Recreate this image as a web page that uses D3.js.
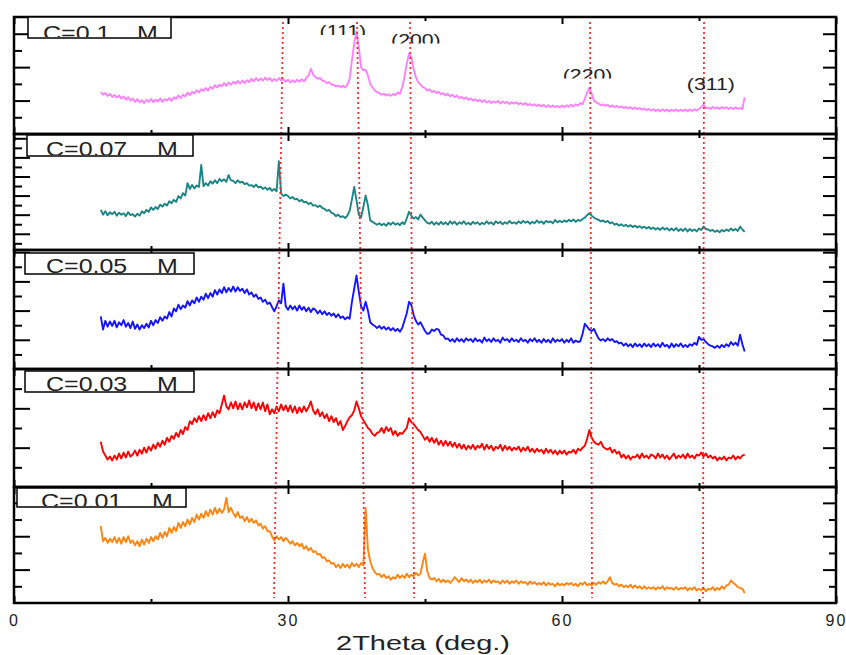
<!DOCTYPE html>
<html lang="en">
<head>
<meta charset="utf-8">
<title>XRD patterns</title>
<style>
  body { margin: 0; background: #fff; }
  svg { font-family: "Liberation Sans", Arial, sans-serif; }
</style>
</head>
<body>
<svg width="846" height="655"></svg>
<script src="https://d3js.org/d3.v7.min.js"></script>
<script>
// 2theta sampling of the patterns (deg)
var thetaStart = 9.5, thetaStep = 0.25;

var concLabels = ["C=0.1 M", "C=0.07 M", "C=0.05 M", "C=0.03 M", "C=0.01 M"];
var colors = ["#ff80ff", "#1a8585", "#1414ff", "#ff0000", "#ff8410"];

// intensities (a.u., one unit = one minor tick of the panel), 9.5..80 deg
var c010 = [
  2.5, 2.35,
  2.45, 2.28, 2.4, 2.22, 2.33, 2.18, 2.3, 2.12, 2.25, 2.05, 2.2, 2.0, 2.12, 1.92, 2.08, 1.9, 2.02, 1.85, 2.05, 1.92,
  2.1, 1.9, 2.05, 1.95, 2.12, 1.92, 2.08, 2.0, 2.15, 1.98, 2.2, 2.1, 2.3, 2.15, 2.35, 2.25, 2.48, 2.32, 2.52, 2.42,
  2.62, 2.48, 2.68, 2.58, 2.75, 2.6, 2.82, 2.7, 2.92, 2.78, 2.95, 2.85, 3.05, 2.88, 3.08, 2.95, 3.12, 3.0, 3.18, 3.02,
  3.2, 3.05, 3.22, 3.1, 3.3, 3.15, 3.35, 3.18, 3.32, 3.2, 3.38, 3.22, 3.35, 3.15, 3.3, 3.18, 3.35, 3.2, 3.28, 3.12,
  3.25, 3.08, 3.2, 3.1, 3.25, 3.12, 3.28, 3.15, 3.35, 3.5, 3.9, 3.55, 3.4, 3.3, 3.35, 3.2, 3.15, 3.05, 3.1, 2.95,
  2.95, 2.85, 2.9, 2.8, 2.88, 2.78, 2.95, 3.3, 4.4, 5.4, 6.15, 5.2, 4.0, 3.8, 3.85, 3.5, 3.0, 2.8, 2.6, 2.5,
  2.45, 2.35, 2.4, 2.3, 2.38, 2.28, 2.4, 2.32, 2.48, 2.4, 2.8, 3.4, 4.2, 4.8, 4.6, 3.9, 3.4, 3.1, 2.95, 2.8,
  2.75, 2.6, 2.68, 2.5, 2.58, 2.45, 2.52, 2.38, 2.45, 2.3, 2.4, 2.25, 2.35, 2.2, 2.3, 2.15, 2.22, 2.1, 2.18, 2.05,
  2.12, 2.0, 2.08, 1.95, 2.05, 1.92, 2.02, 1.88, 1.98, 1.85, 1.95, 1.88, 1.98, 1.82, 1.95, 1.85, 1.92, 1.8, 1.9, 1.82,
  1.9, 1.78, 1.86, 1.75, 1.85, 1.72, 1.8, 1.7, 1.78, 1.68, 1.76, 1.65, 1.74, 1.62, 1.72, 1.6, 1.7, 1.6, 1.68, 1.58,
  1.7, 1.6, 1.72, 1.62, 1.75, 1.65, 1.78, 1.7, 1.85, 1.78, 2.1, 2.5, 2.75, 2.4, 2.0, 1.9, 1.82, 1.72, 1.78, 1.68,
  1.75, 1.62, 1.7, 1.6, 1.68, 1.58, 1.65, 1.55, 1.62, 1.52, 1.6, 1.5, 1.58, 1.48, 1.55, 1.45, 1.52, 1.42, 1.5, 1.4,
  1.48, 1.38, 1.47, 1.36, 1.48, 1.38, 1.46, 1.35, 1.45, 1.37, 1.47, 1.36, 1.45, 1.38, 1.46, 1.36, 1.47, 1.38, 1.48, 1.4,
  1.5, 1.62, 1.75, 1.55, 1.58, 1.5, 1.62, 1.52, 1.6, 1.5, 1.62, 1.53, 1.6, 1.5, 1.58, 1.48, 1.6, 1.5, 1.55, 1.5,
  2.2
];
var c007 = [
  4.5, 4.0,
  4.35, 3.95, 4.25, 4.05, 4.3, 3.9, 4.2, 4.0, 4.15, 3.85, 4.25, 3.95, 4.05, 3.8, 4.1, 3.9, 4.35, 4.15, 4.5, 4.3,
  4.75, 4.5, 4.8, 4.6, 5.05, 4.85, 5.15, 4.95, 5.4, 5.2, 5.55, 5.35, 5.95, 5.7, 6.25, 6.0, 7.3, 6.7, 7.1, 6.75,
  7.05, 6.9, 9.2, 7.0, 7.3, 7.05, 7.5, 7.25, 7.6, 7.3, 7.75, 7.5, 7.7, 7.45, 8.15, 7.6, 7.55, 7.3, 7.6, 7.35,
  7.45, 7.2, 7.3, 7.05, 7.1, 6.9, 7.15, 6.85, 6.95, 6.7, 6.85, 6.6, 6.8, 6.5, 6.7, 6.45, 9.6, 6.2, 5.95, 6.1,
  5.95, 5.7, 5.85, 5.6, 5.65, 5.4, 5.55, 5.3, 5.35, 5.1, 5.25, 4.95, 5.0, 4.8, 4.95, 4.7, 4.6, 4.4, 4.5, 4.2,
  4.1, 3.85, 4.0, 3.75, 3.85, 3.65, 3.9, 4.4, 5.6, 6.9, 5.5, 4.0, 3.7, 4.8, 6.0, 5.0, 3.4, 3.25, 3.1, 2.95,
  3.1, 2.9, 3.05, 2.85, 3.15, 2.95, 3.2, 2.95, 3.1, 2.9, 3.2, 3.0, 3.6, 4.3, 3.9, 3.6, 3.75, 3.5, 4.0, 3.7,
  3.4, 3.15, 3.05, 3.25, 2.95, 3.2, 2.95, 3.25, 3.0, 3.2, 2.95, 3.3, 3.05, 3.25, 2.95, 3.2, 3.05, 3.3, 3.0, 3.15,
  2.95, 3.25, 3.05, 3.2, 2.95, 3.15, 3.0, 3.3, 3.05, 3.2, 2.95, 3.3, 3.1, 3.25, 3.0, 3.2, 3.05, 3.35, 3.1, 3.2,
  3.05, 3.3, 3.1, 3.35, 3.15, 3.3, 3.05, 3.25, 3.1, 3.4, 3.15, 3.3, 3.05, 3.35, 3.2, 3.3, 3.1, 3.45, 3.2, 3.35,
  3.2, 3.4, 3.25, 3.45, 3.3, 3.5, 3.25, 3.45, 3.35, 3.55, 3.7, 3.95, 4.15, 3.9, 3.7, 3.55, 3.45, 3.3, 3.4, 3.2,
  3.35, 3.1, 3.2, 2.95, 3.05, 2.85, 3.0, 2.8, 2.95, 2.75, 2.9, 2.7, 2.85, 2.65, 2.8, 2.6, 2.75, 2.55, 2.7, 2.5,
  2.65, 2.45, 2.6, 2.4, 2.65, 2.45, 2.6, 2.35, 2.55, 2.35, 2.6, 2.3, 2.5, 2.3, 2.55, 2.25, 2.5, 2.3, 2.45, 2.25,
  2.55, 2.4, 2.75, 2.5, 2.45, 2.3, 2.4, 2.2, 2.35, 2.15, 2.4, 2.25, 2.45, 2.3, 2.55, 2.35, 2.5, 2.3, 2.75, 2.45,
  2.2
];
var c005 = [
  3.6, 2.7,
  3.3, 2.9, 3.25, 2.95, 3.3, 2.85, 3.2, 3.0, 3.35, 2.9, 3.15, 2.8, 3.25, 2.75, 3.05, 2.7, 3.0, 2.8, 3.1, 2.85,
  3.3, 3.0, 3.35, 3.15, 3.55, 3.3, 3.6, 3.45, 3.9, 3.6, 4.15, 3.95, 4.4, 4.1, 4.35, 4.2, 4.65, 4.35, 4.7, 4.5,
  4.9, 4.6, 4.95, 4.75, 5.15, 4.85, 5.2, 4.95, 5.4, 5.1, 5.45, 5.2, 5.6, 5.25, 5.55, 5.3, 5.65, 5.3, 5.6, 5.35,
  5.5, 5.2, 5.45, 5.1, 5.25, 4.95, 5.1, 4.8, 4.9, 4.6, 4.75, 4.45, 4.55, 4.25, 3.95, 4.3, 4.7, 4.5, 5.85, 4.3,
  4.05, 4.35, 4.1, 4.3, 4.0, 4.35, 4.05, 4.25, 3.95, 4.2, 3.9, 4.15, 4.05, 3.8, 4.0, 3.75, 3.95, 3.7, 3.85, 3.65,
  3.8, 3.55, 3.75, 3.5, 3.6, 3.4, 3.55, 3.45, 4.6, 5.5, 6.4, 5.3, 4.3, 4.0, 4.6, 4.0, 3.2, 3.05, 2.95, 2.8,
  2.95, 2.75, 2.9, 2.7, 2.85, 2.65, 2.8, 2.6, 2.75, 2.55, 2.8, 3.3, 3.8, 4.6, 4.4, 3.7, 3.3, 3.05, 3.2, 2.9,
  2.6, 2.4, 2.45, 2.7, 2.6, 2.75, 2.7, 2.35, 2.3, 2.05, 2.1, 1.9, 2.05, 1.85, 2.1, 1.9, 2.05, 1.85, 2.1, 1.95,
  2.05, 1.85, 2.1, 1.9, 2.0, 1.8, 2.15, 1.9, 2.05, 1.85, 2.1, 1.9, 2.0, 1.8, 2.15, 1.95, 2.05, 1.85, 2.1, 1.9,
  2.0, 1.85, 2.1, 1.9, 2.0, 1.8, 2.05, 1.9, 2.1, 1.85, 2.0, 1.8, 2.05, 1.85, 2.0, 1.8, 2.1, 1.85, 2.0, 1.9,
  2.05, 1.8, 2.0, 1.85, 2.1, 1.8, 1.95, 1.85, 1.9, 2.4, 3.1, 2.9, 2.7, 2.6, 2.75, 2.4, 2.1, 1.95, 2.05, 1.9,
  2.1, 1.95, 2.05, 1.85, 1.9, 1.75, 1.8, 1.6, 1.75, 1.55, 1.7, 1.5, 1.75, 1.55, 1.7, 1.5, 1.75, 1.55, 1.7, 1.5,
  1.75, 1.55, 1.7, 1.5, 1.8, 1.55, 1.65, 1.45, 1.75, 1.5, 1.7, 1.55, 1.75, 1.5, 1.65, 1.5, 1.7, 1.6, 1.8, 1.65,
  2.2, 2.0, 2.05, 1.85, 1.7, 1.6, 1.55, 1.45, 1.6, 1.45, 1.65, 1.5, 1.7, 1.55, 1.85, 1.65, 1.8, 1.6, 2.35, 1.7,
  1.2
];
var c003 = [
  2.3, 1.8,
  1.6, 1.4, 1.55, 1.35, 1.6, 1.4, 1.7, 1.45, 1.75, 1.5, 1.8, 1.55, 1.65, 1.85, 1.6, 1.9, 1.7, 2.0, 1.75, 2.05,
  1.85, 2.15, 1.95, 2.25, 2.05, 2.35, 2.15, 2.5, 2.3, 2.6, 2.45, 2.75, 2.55, 2.9, 2.7, 3.05, 2.9, 3.35, 3.2, 3.5,
  3.3, 3.6, 3.35, 3.65, 3.4, 3.75, 3.5, 3.8, 3.55, 3.9, 3.75, 4.2, 4.65, 4.1, 3.95, 4.3, 4.0, 4.35, 3.95, 4.25,
  3.95, 4.3, 4.05, 4.4, 4.0, 4.3, 3.9, 4.25, 3.95, 4.3, 3.85, 4.2, 3.7, 3.95, 3.75, 4.1, 3.85, 4.2, 3.9, 4.15,
  3.85, 4.15, 3.8, 4.1, 3.75, 4.05, 3.8, 4.1, 3.85, 4.05, 4.35, 3.9, 3.7, 3.95, 3.6, 3.8, 3.5, 3.7, 3.35, 3.6,
  3.3, 3.5, 3.15, 3.35, 2.9, 3.1, 3.35, 3.55, 3.65, 3.9, 4.35, 4.0, 3.6, 3.4, 3.2, 3.0, 2.9, 2.7, 2.6, 2.75,
  2.8, 3.0, 2.75, 3.05, 2.85, 3.0, 2.65, 2.85, 2.6, 2.75, 2.7, 2.85, 3.0, 3.5, 3.3, 3.2, 3.05, 2.9, 2.8, 2.6,
  2.4, 2.55, 2.3, 2.5, 2.25, 2.45, 2.15, 2.35, 2.1, 2.35, 2.1, 2.3, 2.05, 2.25, 2.0, 2.2, 1.95, 2.15, 1.9, 2.1,
  1.95, 2.15, 1.9, 2.1, 2.0, 2.2, 1.9, 2.15, 1.95, 2.1, 1.85, 2.05, 1.95, 2.15, 1.85, 2.1, 1.9, 2.05, 1.85, 2.0,
  1.9, 2.05, 1.8, 2.0, 1.85, 2.05, 1.8, 1.95, 1.75, 1.95, 1.8, 1.9, 1.7, 1.95, 1.75, 1.9, 1.7, 1.85, 1.65, 1.85,
  1.7, 1.85, 1.65, 1.8, 1.75, 1.9, 1.7, 1.95, 1.85, 2.0, 2.1, 2.45, 2.9, 2.5, 2.3, 2.2, 2.15, 2.3, 2.05, 1.95,
  1.9, 2.0, 1.75, 1.9, 1.7, 1.8, 1.5, 1.65, 1.45, 1.6, 1.4, 1.55, 1.5, 1.65, 1.45, 1.7, 1.5, 1.6, 1.45, 1.65,
  1.6, 1.45, 1.7, 1.5, 1.65, 1.45, 1.6, 1.4, 1.55, 1.7, 1.45, 1.6, 1.5, 1.65, 1.45, 1.7, 1.5, 1.6, 1.45, 1.65,
  1.6, 1.75, 1.55, 1.7, 1.5, 1.6, 1.45, 1.55, 1.35, 1.5, 1.4, 1.55, 1.35, 1.5, 1.45, 1.6, 1.4, 1.55, 1.45, 1.6,
  1.65
];
var c001 = [
  4.6, 3.7,
  3.9, 3.6, 3.85, 3.65, 3.95, 3.6, 3.9, 3.55, 3.95, 3.65, 4.0, 3.6, 3.75, 3.45, 3.7, 3.4, 3.8, 3.5, 3.85, 3.6,
  3.95, 3.7, 4.0, 3.8, 4.2, 3.9, 4.25, 4.0, 4.5, 4.2, 4.55, 4.3, 4.8, 4.5, 4.85, 4.6, 5.0, 4.7, 5.1, 4.85,
  5.3, 5.0, 5.35, 5.1, 5.5, 5.2, 5.6, 5.3, 5.7, 5.35, 5.65, 5.4, 5.6, 6.3, 5.45, 5.7, 5.4, 5.15, 5.45, 5.1,
  5.2, 4.9, 5.15, 4.85, 5.05, 4.8, 4.95, 4.65, 4.75, 4.45, 4.6, 4.3, 4.3, 4.0, 3.75, 4.0, 3.8, 3.95, 3.7, 3.9,
  3.75, 3.55, 3.7, 3.45, 3.6, 3.4, 3.55, 3.25, 3.4, 3.15, 3.3, 3.05, 3.1, 2.9, 2.95, 2.7, 2.75, 2.5, 2.55, 2.35,
  2.4, 2.15, 2.3, 2.1, 2.35, 2.15, 2.3, 2.1, 2.4, 2.2, 2.35, 2.15, 2.4, 2.25, 5.7, 3.2, 2.5, 2.1, 1.85, 1.7,
  1.75, 1.55, 1.7, 1.5, 1.6, 1.4, 1.55, 1.45, 1.7, 1.5, 1.65, 1.5, 1.75, 1.55, 1.7, 1.6, 1.8, 1.65, 1.75, 2.4,
  2.95, 1.9, 1.5, 1.4, 1.5, 1.3, 1.45, 1.25, 1.4, 1.25, 1.35, 1.2, 1.35, 1.55, 1.4, 1.25, 1.5, 1.3, 1.4, 1.25,
  1.4, 1.2, 1.35, 1.25, 1.4, 1.2, 1.35, 1.25, 1.4, 1.2, 1.35, 1.25, 1.3, 1.15, 1.35, 1.2, 1.35, 1.15, 1.3, 1.2,
  1.35, 1.15, 1.3, 1.2, 1.25, 1.1, 1.3, 1.15, 1.25, 1.1, 1.2, 1.1, 1.25, 1.05, 1.2, 1.1, 1.15, 1.0, 1.2, 1.05,
  1.15, 1.05, 1.2, 1.1, 1.2, 1.05, 1.15, 1.0, 1.2, 1.1, 1.25, 1.05, 1.15, 1.05, 1.2, 1.1, 1.25, 1.15, 1.3, 1.15,
  1.3, 1.55, 1.2, 1.1, 1.15, 1.0, 1.1, 0.95, 1.05, 0.95, 1.1, 0.9, 1.05, 0.9, 1.0, 0.85, 1.0, 0.85, 0.95, 0.85,
  0.95, 0.8, 0.95, 0.85, 1.0, 0.8, 0.95, 0.85, 0.9, 0.8, 0.95, 0.8, 0.9, 0.85, 0.95, 0.75, 0.9, 0.8, 0.95, 0.75,
  0.85, 0.75, 0.9, 0.7, 0.85, 0.8, 0.95, 0.75, 0.9, 0.8, 1.0, 0.85, 1.05, 1.1, 1.35, 1.2, 1.1, 0.95, 0.9, 0.85,
  0.6
];
var seriesValues = [c010, c007, c005, c003, c001];

// y domain of each panel (a.u.)
var yDomains = [[0, 7], [0.3, 12.45], [0, 8.15], [0, 6], [0, 6.95]];

// reference lines (2theta at top and bottom of the stack) and hkl labels
var refTop = [29.45, 37.56, 43.36, 63.07, 75.55];
var refBottom = [28.46, 38.43, 43.8, 63.29, 75.44];
var hklLabels = ["(111)", "(200)", "(220)", "(311)"];
var hklTheta = [36.0, 44.0, 62.8, 76.3];

var xMajor = [0, 30, 60, 90], xMinor = [15, 45, 75];

var svg = d3.select("svg"),
    left = 14, right = 836,
    stretch = 1.25,
    panelTops = [17, 134, 250, 369, 487],
    panelBottoms = [134, 250, 369, 487, 603];

var x = d3.scaleLinear().domain([0, 90]).range([left, right]);

// legend boxes, relative to panel top (mx = where the "M" starts)
var boxes = [
  {x: 28, y: 0, w: 143, h: 21, tx: 43, mx: 137, ty: 23},
  {x: 27, y: 1, w: 166, h: 21, tx: 46, mx: 157, ty: 22},
  {x: 25, y: 3, w: 169, h: 21, tx: 46, mx: 157, ty: 23},
  {x: 25, y: 2, w: 169, h: 21, tx: 46, mx: 157, ty: 22},
  {x: 17, y: 1, w: 169, h: 19, tx: 41, mx: 152, ty: 21}
];
var rightMinor = [true, false, true, true, true];

var defs = svg.append("defs");
var curves = svg.append("g"),
    refs = svg.append("g"),
    frames = svg.append("g");

function noDomain(sel) { sel.select(".domain").remove(); }

seriesValues.forEach(function(vals, i) {
  var top = panelTops[i], h = panelBottoms[i] - top;
  var y = d3.scaleLinear().domain(yDomains[i]).range([h, 0]);

  var line = d3.line()
      .x(function(d, j) { return x(thetaStart + j * thetaStep); })
      .y(function(d) { return y(d); });

  curves.append("path")
      .datum(vals)
      .attr("transform", "translate(0," + top + ")")
      .attr("fill", "none")
      .attr("stroke", colors[i])
      .attr("stroke-width", 1.9)
      .attr("stroke-linejoin", "round")
      .attr("d", line);

  var g = frames.append("g").attr("transform", "translate(0," + top + ")");

  var d0 = Math.ceil(yDomains[i][0]), d1 = yDomains[i][1];
  var yAll = d3.range(d0, d1, 1).filter(function(v) { return v > 0; });
  var yMaj = yAll.filter(function(v) { return v % 2 === 0; }),
      yMin = yAll.filter(function(v) { return v % 2 === 1; });

  g.append("g").attr("transform", "translate(" + left + ",0)")
      .call(d3.axisLeft(y).tickValues(yMaj).tickSize(-16).tickFormat("")).call(noDomain);
  g.append("g").attr("transform", "translate(" + left + ",0)")
      .call(d3.axisLeft(y).tickValues(yMin).tickSize(-8).tickFormat("")).call(noDomain);
  g.append("g").attr("transform", "translate(" + right + ",0)")
      .call(d3.axisRight(y).tickValues(yMaj).tickSize(-13).tickFormat("")).call(noDomain);
  if (rightMinor[i]) {
    g.append("g").attr("transform", "translate(" + right + ",0)")
        .call(d3.axisRight(y).tickValues(yMin).tickSize(-7).tickFormat("")).call(noDomain);
  }

  g.append("g")
      .call(d3.axisTop(x).tickValues(xMajor).tickSize(-7).tickFormat("")).call(noDomain);
  g.append("g")
      .call(d3.axisTop(x).tickValues(xMinor).tickSize(-4).tickFormat("")).call(noDomain);

  var bottom = g.append("g").attr("transform", "translate(0," + h + ")")
      .call(d3.axisBottom(x).tickValues(xMajor).tickSize(-7).tickPadding(12)
        .tickFormat(i === seriesValues.length - 1 ? d3.format("d") : ""))
      .call(noDomain);
  bottom.selectAll("text")
      .attr("font-family", "Liberation Sans, Arial, sans-serif")
      .attr("font-size", 16)
      .attr("fill", "#222")
      .style("letter-spacing", "2px");
  g.append("g").attr("transform", "translate(0," + h + ")")
      .call(d3.axisBottom(x).tickValues(xMinor).tickSize(-4).tickFormat("")).call(noDomain);

  g.selectAll(".tick line").attr("stroke", "#000").attr("stroke-width", 2);

  g.append("rect")
      .attr("x", left).attr("y", 0)
      .attr("width", right - left).attr("height", h)
      .attr("fill", "none").attr("stroke", "#000").attr("stroke-width", 2.5);

  // legend: text is cut by the bottom of its box, as in the original
  var b = boxes[i];
  defs.append("clipPath").attr("id", "lg" + i)
    .append("rect").attr("x", b.x).attr("y", b.y).attr("width", b.w).attr("height", b.h - 1);
  g.append("rect")
      .attr("x", b.x).attr("y", b.y).attr("width", b.w).attr("height", b.h)
      .attr("fill", "#fff").attr("stroke", "#000").attr("stroke-width", 1.5);
  var parts = concLabels[i].split(" ");
  var lt = g.append("g").attr("clip-path", "url(#lg" + i + ")")
    .append("text")
      .attr("transform", "translate(" + b.tx + "," + b.ty + ") scale(" + stretch + ",1)")
      .attr("font-size", 20)
      .attr("fill", "#222");
  lt.append("tspan").attr("x", 0).text(parts[0]);
  lt.append("tspan").attr("x", (b.mx - b.tx) / stretch).text(parts[1]);
});

// reference lines across the stack
refs.selectAll("line")
  .data(refTop)
  .join("line")
    .attr("x1", function(d) { return x(d); })
    .attr("x2", function(d, k) { return x(refBottom[k]); })
    .attr("y1", 22).attr("y2", 598)
    .attr("stroke", "#ff2a2a")
    .attr("stroke-width", 1.8)
    .attr("stroke-dasharray", "2,3");

// hkl labels (the first three are cut at the bottom in the original)
var hklBase = [37, 45.5, 80.5, 90];
var hklClip = [35, 43.5, 78.5, 95];
hklLabels.forEach(function(t, k) {
  defs.append("clipPath").attr("id", "hkl" + k)
    .append("rect").attr("x", x(hklTheta[k]) - 40).attr("y", 0)
    .attr("width", 80).attr("height", hklClip[k]);
  svg.append("g").attr("clip-path", "url(#hkl" + k + ")")
    .append("text")
      .attr("transform", "translate(" + x(hklTheta[k]) + "," + hklBase[k] + ") scale(" + stretch + ",1)")
      .attr("text-anchor", "middle")
      .attr("font-size", 17)
      .attr("fill", "#222")
      .text(t);
});

svg.append("text")
    .attr("transform", "translate(423,650) scale(1.45,1)")
    .attr("text-anchor", "middle")
    .attr("font-size", 20)
    .attr("fill", "#222")
    .text("2Theta (deg.)");
</script>
</body>
</html>
